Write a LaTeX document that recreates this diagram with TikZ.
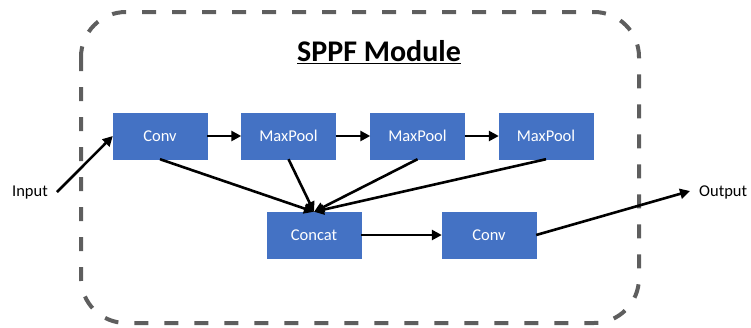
\documentclass[tikz,border=0pt]{standalone}
\usepackage{fontspec}
\setmainfont{Carlito}
\usetikzlibrary{arrows.meta}
\definecolor{blockblue}{HTML}{4472C4}
\definecolor{framegray}{HTML}{5E5E5E}
\tikzset{
  block/.style={draw=blockblue, fill=blockblue, minimum width=94pt, minimum height=46pt,
    inner sep=0pt, text=white, font=\fontsize{16.5}{18}\selectfont},
  flow/.style={line width=2.6pt, -{Triangle[length=10pt,width=10pt]}},
  label/.style={font=\fontsize{16.5}{18}\selectfont, inner sep=0pt},
  frame/.style={draw=framegray, line width=4pt, dash pattern=on 14pt off 16pt,
    rounded corners=45pt}
}
\begin{document}
\begin{tikzpicture}[x=1pt, y=-1pt]
  \useasboundingbox (0,0) rectangle (751,327);
  % module outline
  \draw[frame] (81,12) rectangle (639,323);
  \node[font=\bfseries\fontsize{30}{32}\selectfont, inner sep=0pt] (title) at (379,52)
    {\underline{SPPF Module}};
  % blocks
  \node[block] (conv1) at (160,136) {Conv};
  \node[block] (mp1) at (288.5,136) {MaxPool};
  \node[block] (mp2) at (417.5,136) {MaxPool};
  \node[block] (mp3) at (546,136) {MaxPool};
  \node[block] (concat) at (314,235) {Concat};
  \node[block] (conv2) at (489,235) {Conv};
  % terminals
  \node[label, anchor=east] (in) at (48,193) {Input};
  \node[label, anchor=west] (out) at (699,192) {Output};
  \coordinate (inpt) at (57,192);
  \coordinate (outpt) at (690,191);
  % connectors
  \draw[flow] (inpt) -- (conv1.west);
  \draw[flow] (conv1) -- (mp1);
  \draw[flow] (mp1) -- (mp2);
  \draw[flow] (mp2) -- (mp3);
  \draw[flow] (conv1.south) -- (concat.north);
  \draw[flow] (mp1.south) -- (concat.north);
  \draw[flow] (mp2.south) -- (concat.north);
  \draw[flow] (mp3.south) -- (concat.north);
  \draw[flow] (concat) -- (conv2);
  \draw[flow] (conv2.east) -- (outpt);
\end{tikzpicture}
\end{document}
